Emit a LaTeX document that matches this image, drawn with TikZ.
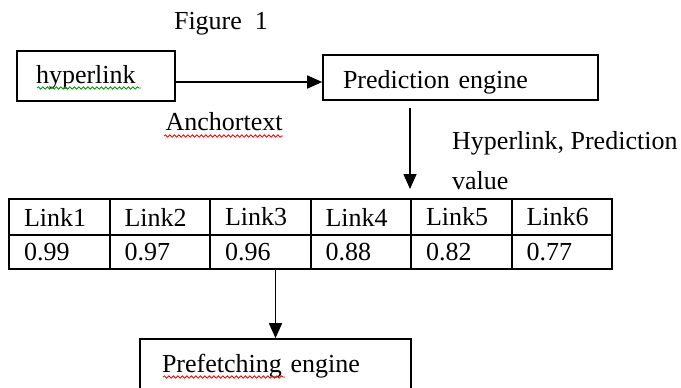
\documentclass[tikz,border=0pt]{standalone}
\usepackage{fontspec}
\setmainfont{Liberation Serif}
\usetikzlibrary{arrows.meta,decorations.pathmorphing}

\begin{document}
\begin{tikzpicture}[x=1pt,y=-1pt,font=\fontsize{26}{30}\selectfont,
  box/.style={draw,line width=1.6pt,rectangle,align=left,inner ysep=0pt},
  cell/.style={draw,line width=2pt,rectangle,minimum width=100.5pt,text width=70.5pt,inner xsep=15pt,inner ysep=0pt,align=left},
  arr/.style={line width=1.6pt,-{Triangle[length=15pt,width=13pt]}},
  squig/.style={decorate,decoration={snake,amplitude=1.2pt,segment length=4.5pt},line width=0.8pt}]%Prediction and prefetching
\clip (0,0) rectangle (681,388);
\node (fig) at (221,24) {Figure\ \ 1};
\node[box,minimum width=158pt,minimum height=50pt,text width=120pt,inner xsep=19pt,text height=19pt,text depth=5pt] (hl) at (96,76) {hyperlink};
\node[box,minimum width=275pt,minimum height=45pt,text width=235pt,inner xsep=20pt,text height=26pt,text depth=5pt] (pred) at (460.5,77.5) {Prediction engine};
\coordinate (a1) at ([yshift=-6pt]hl.east);
\draw[arr] (a1) -- (a1 -| pred.west) node[pos=0.33,below=30pt,inner sep=0pt] (anc) {Anchortext};
% table of links
\foreach \lab/\val [count=\i] in {Link1/0.99,Link2/0.97,Link3/0.96,Link4/0.88,Link5/0.82,Link6/0.77}{
  \node[cell,minimum height=36pt] (l\i) at (9+100.5*\i-50.25,217) {\lab};
  \node[cell,minimum height=34pt] (v\i) at (9+100.5*\i-50.25,252) {\val};
}
\draw[arr,shorten <=7pt,shorten >=9pt] (pred.south -| l5.west) -- (l5.north west);
\node[anchor=north west,inner sep=0pt,align=left,font=\fontsize{26}{40}\selectfont] (hpv) at (452,131) {Hyperlink, Prediction\\value};
\node[box,minimum width=271pt,minimum height=54pt,text width=227pt,inner xsep=22pt] (pref) at (275.5,366) {Prefetching engine};
\draw[arr] (v3.south -| pref.north) -- (pref.north);
\draw[squig,green!60!black] (37,88) -- (141,88);
\draw[squig,red] (164,136) -- (283,136);
\draw[squig,red] (163,377) -- (285,377);
\end{tikzpicture}
\end{document}
